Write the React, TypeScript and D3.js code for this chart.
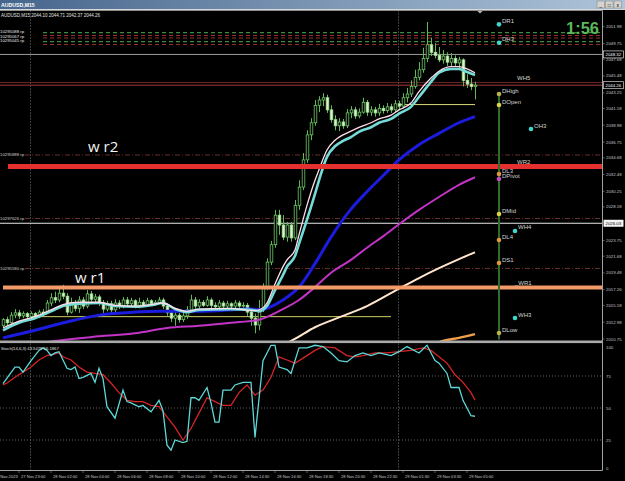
import React from "react";
import * as d3 from "d3";

// ---------- DATA ----------
// OHLC per M15 bar: [open, high, low, close]
const bars: [number, number, number, number][] = [
  [2012.5, 2013.5, 2012.2, 2013.3], [2013.3, 2013.7, 2012.5, 2012.9], [2012.9, 2014.3, 2012.6, 2013.9], [2013.9, 2014.7, 2013.5, 2014.2],
  [2014.2, 2014.6, 2013.4, 2013.8], [2013.8, 2014.4, 2013.5, 2014.1], [2014.1, 2014.3, 2013.3, 2013.7], [2013.7, 2014.4, 2013.4, 2014.1],
  [2014.1, 2014.3, 2013.5, 2013.8], [2013.8, 2014.6, 2013.5, 2014.3], [2014.3, 2014.7, 2013.8, 2014.2], [2014.2, 2015.9, 2014.1, 2015.5],
  [2015.5, 2016.8, 2015.1, 2016.2], [2016.2, 2017.0, 2015.5, 2015.9], [2015.9, 2017.5, 2015.6, 2016.8], [2016.8, 2017.9, 2016.0, 2016.4],
  [2016.4, 2016.8, 2013.9, 2014.3], [2014.3, 2016.2, 2014.1, 2015.5], [2015.5, 2015.9, 2014.4, 2014.8], [2014.8, 2016.4, 2014.2, 2015.9],
  [2015.9, 2016.3, 2014.7, 2015.1], [2015.1, 2017.2, 2014.8, 2016.7], [2016.7, 2017.1, 2015.5, 2016.0], [2016.0, 2016.7, 2015.6, 2016.3],
  [2016.3, 2016.6, 2015.1, 2015.5], [2015.5, 2015.9, 2014.2, 2014.7], [2014.7, 2015.8, 2014.4, 2015.4], [2015.4, 2015.8, 2014.2, 2014.6],
  [2014.6, 2016.0, 2014.3, 2015.5], [2015.5, 2015.9, 2014.7, 2015.1], [2015.1, 2016.3, 2014.8, 2015.9], [2015.9, 2016.3, 2015.0, 2015.4],
  [2015.4, 2016.2, 2015.1, 2015.8], [2015.8, 2016.0, 2014.8, 2015.1], [2015.1, 2016.2, 2014.8, 2015.6], [2015.6, 2015.9, 2015.0, 2015.2],
  [2015.2, 2016.2, 2015.0, 2015.8], [2015.8, 2016.0, 2015.1, 2015.4], [2015.4, 2015.9, 2015.1, 2015.6], [2015.6, 2016.3, 2015.4, 2015.9],
  [2015.9, 2016.2, 2014.7, 2015.1], [2015.1, 2015.5, 2013.8, 2014.2], [2014.2, 2014.6, 2013.0, 2013.5], [2013.5, 2014.3, 2012.5, 2013.9],
  [2013.9, 2014.2, 2012.9, 2013.3], [2013.3, 2014.2, 2013.0, 2013.8], [2013.8, 2015.1, 2013.4, 2014.6], [2014.6, 2016.6, 2014.3, 2015.9],
  [2015.9, 2016.3, 2014.7, 2015.1], [2015.1, 2016.0, 2014.8, 2015.6], [2015.6, 2015.9, 2015.0, 2015.2], [2015.2, 2016.4, 2015.0, 2015.9],
  [2015.9, 2016.2, 2014.8, 2015.2], [2015.2, 2015.6, 2014.3, 2015.0], [2015.0, 2015.9, 2014.6, 2015.5], [2015.5, 2015.8, 2014.7, 2015.1],
  [2015.1, 2015.8, 2014.8, 2015.4], [2015.4, 2015.6, 2014.7, 2015.1], [2015.1, 2015.9, 2014.8, 2015.5], [2015.5, 2015.8, 2014.6, 2015.1],
  [2015.1, 2015.6, 2014.7, 2015.2], [2015.2, 2015.5, 2013.8, 2014.3], [2014.3, 2014.8, 2012.5, 2013.5], [2013.5, 2014.1, 2011.5, 2012.6],
  [2012.6, 2015.9, 2011.9, 2014.6], [2014.6, 2018.1, 2014.3, 2017.6], [2017.6, 2021.4, 2017.2, 2020.9], [2020.9, 2023.7, 2020.5, 2023.2],
  [2023.2, 2027.8, 2022.8, 2027.1], [2027.1, 2027.8, 2024.5, 2025.8], [2025.8, 2027.1, 2023.8, 2024.2], [2024.2, 2026.2, 2023.6, 2025.8],
  [2025.8, 2026.2, 2023.6, 2024.1], [2024.1, 2029.1, 2023.8, 2028.4], [2028.4, 2031.7, 2027.8, 2030.8], [2030.8, 2035.3, 2030.4, 2034.4],
  [2034.4, 2038.3, 2034.0, 2037.7], [2037.7, 2039.9, 2037.0, 2039.3], [2039.3, 2042.3, 2038.9, 2041.6], [2041.6, 2042.8, 2040.7, 2042.3],
  [2042.3, 2043.2, 2041.5, 2042.6], [2042.6, 2043.0, 2040.6, 2041.0], [2041.0, 2041.6, 2039.3, 2039.7], [2039.7, 2040.3, 2038.3, 2038.9],
  [2038.9, 2039.9, 2038.2, 2039.4], [2039.4, 2039.8, 2038.5, 2038.9], [2038.9, 2041.1, 2038.6, 2040.6], [2040.6, 2041.5, 2039.9, 2041.0],
  [2041.0, 2041.4, 2039.8, 2040.2], [2040.2, 2041.2, 2039.9, 2040.7], [2040.7, 2042.6, 2040.5, 2042.0], [2042.0, 2042.3, 2040.2, 2040.7],
  [2040.7, 2041.5, 2040.2, 2041.0], [2041.0, 2041.4, 2040.1, 2040.6], [2040.6, 2041.8, 2040.2, 2041.2], [2041.2, 2041.6, 2040.5, 2040.9],
  [2040.9, 2041.9, 2040.6, 2041.4], [2041.4, 2041.8, 2040.6, 2041.0], [2041.0, 2042.3, 2040.7, 2041.8], [2041.8, 2042.2, 2041.0, 2041.5],
  [2041.5, 2043.2, 2041.2, 2042.6], [2042.6, 2043.9, 2042.0, 2043.1], [2043.1, 2044.9, 2042.7, 2044.1], [2044.1, 2046.3, 2043.8, 2045.3],
  [2045.3, 2047.3, 2044.9, 2046.3], [2046.3, 2049.2, 2045.9, 2047.8], [2047.8, 2052.6, 2047.3, 2049.6], [2049.6, 2050.5, 2048.1, 2048.6],
  [2048.6, 2049.8, 2047.8, 2048.2], [2048.2, 2049.3, 2047.3, 2047.6], [2047.6, 2048.9, 2047.1, 2048.1], [2048.1, 2048.6, 2046.8, 2047.3],
  [2047.3, 2048.5, 2046.7, 2047.8], [2047.8, 2048.2, 2046.7, 2047.2], [2047.2, 2048.0, 2046.5, 2047.6], [2047.6, 2047.8, 2044.1, 2044.9],
  [2044.9, 2045.7, 2043.9, 2044.4], [2044.4, 2045.2, 2043.6, 2044.1], [2044.10, 2044.71, 2042.37, 2044.26],
];

// moving averages: [bar index, price]
const maPink: [number, number][] = [[0, 2012.2], [4, 2013.1], [8, 2013.7], [12, 2014.6], [15, 2015.3], [19, 2015.6], [24, 2015.6], [28, 2015.2], [33, 2015.1], [37, 2015.3], [40, 2015.5], [43, 2014.8], [46, 2014.4], [49, 2014.7], [57, 2014.8], [62, 2014.5], [64, 2014.6], [66, 2015.5], [68, 2018.0], [70, 2020.3], [71, 2021.2], [73, 2022.5], [74, 2024.5], [76, 2028.4], [78, 2031.7], [79, 2033.1], [81, 2035.7], [83, 2037.0], [85, 2037.7], [87, 2038.2], [89, 2038.7], [92, 2039.3], [94, 2039.8], [97, 2040.3], [99, 2041.0], [102, 2041.9], [104, 2043.4], [107, 2045.2], [109, 2046.1], [112, 2046.7], [114, 2046.7], [116, 2046.4], [118, 2045.9]];
const maCyan: [number, number][] = [[0, 2011.9], [4, 2012.9], [8, 2013.5], [12, 2014.4], [15, 2015.1], [19, 2015.4], [24, 2015.5], [28, 2015.1], [33, 2015.0], [37, 2015.2], [40, 2015.5], [43, 2014.7], [46, 2014.3], [49, 2014.6], [57, 2014.7], [62, 2014.6], [64, 2014.4], [66, 2015.1], [68, 2017.2], [70, 2019.2], [71, 2020.3], [73, 2021.7], [74, 2023.3], [76, 2026.5], [78, 2029.9], [79, 2031.7], [81, 2034.8], [83, 2036.2], [85, 2036.9], [87, 2037.4], [89, 2038.1], [92, 2038.7], [94, 2039.3], [97, 2039.8], [99, 2040.5], [102, 2041.4], [104, 2042.7], [107, 2044.7], [109, 2045.9], [112, 2046.4], [114, 2046.4], [116, 2046.0], [118, 2045.6]];
const maBlue: [number, number][] = [[0, 2010.9], [8, 2011.9], [16, 2013.0], [24, 2013.9], [33, 2014.3], [39, 2014.4], [49, 2014.4], [62, 2014.7], [64, 2014.6], [70, 2015.9], [74, 2017.6], [78, 2020.7], [82, 2024.2], [87, 2027.9], [91, 2030.2], [95, 2032.3], [99, 2034.4], [104, 2036.4], [109, 2037.9], [114, 2039.3], [118, 2040.1]];
const maMagenta: [number, number][] = [[5, 2009.8], [13, 2010.5], [24, 2011.1], [33, 2011.5], [41, 2012.2], [49, 2012.5], [57, 2012.9], [64, 2013.3], [70, 2014.7], [74, 2015.9], [78, 2017.6], [82, 2019.5], [87, 2021.2], [91, 2022.8], [95, 2024.3], [99, 2025.9], [104, 2027.8], [109, 2029.5], [114, 2031.1], [118, 2032.1]];
const maCream: [number, number][] = [[66, 2009.3], [72, 2010.5], [78, 2012.3], [85, 2013.8], [91, 2015.1], [99, 2017.4], [104, 2018.8], [109, 2020.1], [114, 2021.3], [118, 2022.2]];
const maOrange: [number, number][] = [[107, 2009.9], [110, 2010.5], [114, 2010.9], [118, 2011.4]];

// stochastic (14,6,3): [bar index, value]
const stochK: [number, number][] = [[0, 69], [3, 82], [4, 82], [5, 78], [7, 87], [9, 95], [10, 97], [11, 95], [12, 91], [13, 93], [14, 94], [16, 81], [17, 80], [18, 82], [19, 73], [20, 74], [22, 77], [23, 70], [24, 81], [25, 73], [26, 51], [28, 42], [30, 64], [31, 55], [32, 54], [34, 51], [35, 52], [37, 47], [39, 56], [40, 48], [41, 21], [42, 17], [43, 25], [45, 23], [46, 24], [47, 58], [48, 58], [49, 56], [51, 66], [52, 54], [53, 39], [54, 39], [55, 64], [57, 64], [58, 68], [60, 70], [62, 70], [63, 27], [65, 87], [67, 99], [68, 99], [69, 82], [71, 80], [72, 77], [74, 97], [76, 97], [78, 99], [80, 98], [82, 93], [84, 87], [86, 86], [88, 91], [90, 93], [92, 91], [94, 93], [97, 91], [99, 94], [101, 98], [104, 93], [106, 99], [108, 87], [109, 85], [111, 77], [112, 66], [114, 66], [115, 56], [117, 44], [118, 43.5479]];
const stochD: [number, number][] = [[0, 68], [1, 69.5], [3, 74], [5, 78], [7, 82], [9, 87.5], [11, 91], [14, 93], [15, 90], [17, 87.5], [19, 82], [21, 78], [23, 77], [25, 76], [27, 69.5], [29, 62], [31, 56], [33, 55], [35, 55], [37, 52], [39, 51], [41, 43], [43, 35], [45, 25], [47, 34], [49, 46], [51, 58], [53, 55], [55, 52], [57, 52], [59, 62], [61, 68], [63, 60], [65, 64], [67, 74], [69, 90], [71, 87.5], [73, 85], [75, 89], [78, 95], [80, 98], [83, 97], [86, 91], [88, 90], [90, 91], [93, 93], [96, 93], [99, 94], [102, 95], [105, 97], [107, 95], [109, 90], [111, 85], [113, 76], [115, 70], [117, 62], [118, 56.1867]];

// horizontal levels (prices)
const greenDashLevels = [2051.21, 2050.02];
const redDashLevels = [2050.81, 2050.48, 2049.63];
const dashDotLevels = [2035.04, 2026.66, 2020.06];
const dashDotTags = ["10295888 rp", "10297626 rp", "10295580 rp"];
const topTags = ["10295088 rp", "10295067 rp", "10295045 rp"];
const topTagPrices = [2051.3, 2050.75, 2050.1];
const weeklyR2 = 2033.52;
const weeklyR1 = 2017.55;
const whiteLevel = 2026.03;
const grayLevel = 2048.32;
const wh5Level = 2044.6;
const bidPrice = 2044.26;
const prevDayOpen = 2013.7;
const dayOpen = 2041.7;
const prevDayBars = [7, 97];
const dayBars = [99, 118];
const daySeparatorBars = [7, 99];

// pivot markers
const pivotNames = ["DR1", "DH3", "DHigh", "DOpen", "DL3", "DPivot", "DMid", "DL4", "DS1", "DLow", "OH3", "WH4", "WH3"];
const pivotPrices = [2052.29, 2049.86, 2043.09, 2041.64, 2032.53, 2031.87, 2027.25, 2023.82, 2020.78, 2011.54, 2038.47, 2025.01, 2013.52];
const pivotBars = [124, 124, 124, 124, 124, 124, 124, 124, 124, 124, 132, 128, 128];
const pivotKinds = ["c", "c", "o", "y", "r", "m", "y", "r", "r", "o", "c", "c", "c"];
const lineTagNames = ["WH5", "WR2", "_WR1"];
const lineTagPrices = [wh5Level, weeklyR2, weeklyR1];
const lineTagBars = [128, 128, 127.5];

const chartTexts = ["w r2", "w r1"];
const chartTextPrices = [2035.4, 2018.1];
const chartTextBars = [21.25, 18];

const priceTicks = ["2051.98", "2049.75", "2047.68", "2045.48", "2043.25", "2041.18", "2038.98", "2036.75", "2034.68", "2032.48", "2030.25", "2028.18", "2023.75", "2021.68", "2019.48", "2017.26", "2015.18", "2012.98", "2010.75"];
const stochTicks = [100, 75, 50, 25, 0];
const stochLevels = [75, 50, 25];
const timeTickLabels = ["Nov 2023", "27 Nov 23:00", "28 Nov 02:00", "28 Nov 04:00", "28 Nov 06:00", "28 Nov 08:00", "28 Nov 10:00", "28 Nov 12:00", "28 Nov 14:30", "28 Nov 16:30", "28 Nov 18:30", "28 Nov 20:30", "28 Nov 22:30", "29 Nov 01:30", "29 Nov 03:30", "29 Nov 05:00"];
const timeTickBars = [-1.2, 4, 12, 20, 28, 36, 44, 52, 60, 68, 76, 84, 92, 100, 108, 116];

const symbol = "AUDUSD,M15";
const ohlcHeader = "2044.10 2044.71 2042.37 2044.26";
const stochHeader = "Stoch(14,6,3) 43.5479 56.1867";
const timer = "1:56";

// ---------- CHART ----------
const PLOT_R = 602.5;
const MAIN_TOP = 10.5;
const MAIN_BOT = 341;
const SUB_TOP = 343.5;
const SUB_BOT = 470.5;

const kindColor: Record<string, string> = { c: "#3fd6cc", o: "#b9b24a", y: "#dcd24a", r: "#e0963e", m: "#c848c8" };

export default function App() {
  const x = d3.scaleLinear().domain([0, 118]).range([3, 475]);
  const y = d3.scaleLinear().domain([2010.75, 2051.98]).range([339, 26.7]);
  const ys = d3.scaleLinear().domain([0, 100]).range([472, 344]);

  const maLine = d3.line<[number, number]>().x((d) => x(d[0])).y((d) => y(d[1])).curve(d3.curveMonotoneX);
  const stLine = d3.line<[number, number]>().x((d) => x(d[0])).y((d) => ys(d[1]));

  const font = "'Liberation Sans', Arial, sans-serif";
  const axisCol = "#c8c8c8";

  return (
    <svg width={625} height={481} viewBox="0 0 625 481" style={{ position: "fixed", left: 0, top: 0, display: "block", background: "#000" }} fontFamily={font}>
      <defs>
        <linearGradient id="tb" x1="0" x2="1" y1="0" y2="0">
          <stop offset="0" stopColor="#46658c" />
          <stop offset="1" stopColor="#aec4da" />
        </linearGradient>
        <clipPath id="mainClip"><rect x={0} y={MAIN_TOP} width={PLOT_R} height={MAIN_BOT - MAIN_TOP} /></clipPath>
        <clipPath id="subClip"><rect x={0} y={SUB_TOP} width={PLOT_R} height={SUB_BOT - SUB_TOP} /></clipPath>
      </defs>
      <rect x={0} y={0} width={625} height={481} fill="#000" />

      {/* title bar */}
      <rect x={0} y={0} width={625} height={9} fill="url(#tb)" />
      <line x1={0} x2={625} y1={9.5} y2={9.5} stroke="#d8d8d8" strokeWidth={1} />
      <text x={1} y={7} fontSize={5.2} fontWeight="bold" fill="#fff">{symbol}</text>
      {[0, 1, 2].map((i) => (
        <g key={i}>
          <rect x={597 + i * 8.5} y={1} width={7.5} height={7} fill="#d6d3cc" stroke="#808080" strokeWidth={0.5} />
          <text x={600.75 + i * 8.5} y={6.8} fontSize={5} textAnchor="middle" fill="#000">{["_", "□", "x"][i]}</text>
        </g>
      ))}

      {/* ===== main chart ===== */}
      <g clipPath="url(#mainClip)">
        {daySeparatorBars.map((b) => (
          <line key={b} x1={x(b) - 0.5} x2={x(b) - 0.5} y1={MAIN_TOP} y2={MAIN_BOT} stroke="#9a9a9a" strokeWidth={0.8} strokeDasharray="1,2" />
        ))}
        {greenDashLevels.map((p) => (
          <line key={"g" + p} x1={43} x2={PLOT_R} y1={y(p)} y2={y(p)} stroke="#3d8a3d" strokeWidth={1.2} strokeDasharray="4,3" />
        ))}
        {redDashLevels.map((p) => (
          <line key={"r" + p} x1={43} x2={PLOT_R} y1={y(p)} y2={y(p)} stroke="#9a2e2e" strokeWidth={1.1} strokeDasharray="4,3" />
        ))}
        {topTags.map((t, i) => (
          <text key={t} x={0} y={y(topTagPrices[i]) + 1.5} fontSize={4.3} fill="#e8e8e8">{t}</text>
        ))}
        <line x1={0} x2={PLOT_R} y1={y(grayLevel)} y2={y(grayLevel)} stroke="#9c9c9c" strokeWidth={1} />
        <line x1={0} x2={PLOT_R} y1={y(wh5Level)} y2={y(wh5Level)} stroke="#7a2a2a" strokeWidth={0.9} />
        <line x1={0} x2={PLOT_R} y1={y(bidPrice)} y2={y(bidPrice)} stroke="#b83a3a" strokeWidth={0.9} />
        {dashDotLevels.map((p, i) => (
          <g key={p}>
            <line x1={25} x2={PLOT_R} y1={y(p)} y2={y(p)} stroke="#6b2f2f" strokeWidth={1} strokeDasharray="5,2,1,2" />
            <text x={0} y={y(p) + 1.3} fontSize={4.3} fill="#d0d0d0">{dashDotTags[i]}</text>
          </g>
        ))}
        <line x1={0} x2={PLOT_R} y1={y(whiteLevel)} y2={y(whiteLevel)} stroke="#e8e8e8" strokeWidth={1} />

        <line x1={x(prevDayBars[0])} x2={x(prevDayBars[1])} y1={y(prevDayOpen)} y2={y(prevDayOpen)} stroke="#cfcf62" strokeWidth={1} />
        <line x1={x(dayBars[0])} x2={x(dayBars[1])} y1={y(dayOpen)} y2={y(dayOpen)} stroke="#d8d87a" strokeWidth={1} />

        {bars.map(([o, h, l, c], i) => {
          const cx = x(i);
          const bull = c >= o;
          const top = y(Math.max(o, c));
          const bot = y(Math.min(o, c));
          return (
            <g key={i}>
              <line x1={cx + 0.5} x2={cx + 0.5} y1={y(h)} y2={y(l)} stroke="#5fb85a" strokeWidth={1} />
              <rect x={cx - 0.8} y={top} width={2.6} height={Math.max(0.8, bot - top)} fill={bull ? "#000" : "#d4f4c4"} stroke={bull ? "#6cc864" : "#a6e29a"} strokeWidth={0.8} />
            </g>
          );
        })}

        <path d={maLine(maCream) || ""} fill="none" stroke="#ffe6cc" strokeWidth={2} />
        <path d={maLine(maOrange) || ""} fill="none" stroke="#f0a048" strokeWidth={2.4} />
        <path d={maLine(maMagenta) || ""} fill="none" stroke="#c234c6" strokeWidth={2} />
        <path d={maLine(maBlue) || ""} fill="none" stroke="#1c1ce0" strokeWidth={3} />
        <path d={maLine(maCyan) || ""} fill="none" stroke="#74dcd8" strokeWidth={2.6} />
        <path d={maLine(maPink) || ""} fill="none" stroke="#ffdce8" strokeWidth={1.3} />

        <line x1={8} x2={PLOT_R} y1={y(weeklyR2)} y2={y(weeklyR2)} stroke="#e4302e" strokeWidth={5} />
        <line x1={3} x2={PLOT_R} y1={y(weeklyR1)} y2={y(weeklyR1)} stroke="#f29a68" strokeWidth={4} />

        <line x1={x(124)} x2={x(124)} y1={y(pivotPrices[2])} y2={y(2010.7)} stroke="#2e6e2a" strokeWidth={2} />
        {pivotNames.map((n, i) => (
          <g key={n}>
            <circle cx={x(pivotBars[i])} cy={y(pivotPrices[i])} r={2.3} fill={kindColor[pivotKinds[i]]} />
            <text x={x(pivotBars[i]) + 3} y={y(pivotPrices[i]) - 1.5} fontSize={6} fill="#d4d4d4">{n}</text>
          </g>
        ))}
        {lineTagNames.map((n, i) => (
          <text key={n} x={x(lineTagBars[i]) + 2} y={y(lineTagPrices[i]) - 2.5} fontSize={6} fill="#d4d4d4">{n}</text>
        ))}
        {chartTexts.map((t, i) => (
          <text key={t} x={x(chartTextBars[i])} y={y(chartTextPrices[i])} fontSize={15} fontFamily="'Open Sans', sans-serif" fill="#f4f4f4">{t}</text>
        ))}
      </g>

      <text x={1} y={16.5} fontSize={4.5} fill="#e0e0e0">{symbol + " " + ohlcHeader}</text>
      <text x={599} y={33.5} fontSize={16.5} fontWeight="bold" textAnchor="end" fill="#5cb85c">{timer}</text>
      <polygon points={`${x(118) + 2},${MAIN_TOP} ${x(118) + 8},${MAIN_TOP} ${x(118) + 5},${MAIN_TOP + 3}`} fill="#b8b8b8" />

      <line x1={0} x2={PLOT_R} y1={MAIN_TOP} y2={MAIN_TOP} stroke="#8c8c8c" strokeWidth={1} />
      <rect x={0} y={MAIN_BOT - 0.5} width={PLOT_R} height={2.6} fill="#a9a9a9" />

      {/* ===== stochastic ===== */}
      <g clipPath="url(#subClip)">
        {daySeparatorBars.map((b) => (
          <line key={b} x1={x(b) - 0.5} x2={x(b) - 0.5} y1={SUB_TOP} y2={SUB_BOT} stroke="#9a9a9a" strokeWidth={0.8} strokeDasharray="1,2" />
        ))}
        {stochLevels.map((v) => (
          <line key={v} x1={0} x2={PLOT_R} y1={ys(v)} y2={ys(v)} stroke="#8a8a8a" strokeWidth={0.7} strokeDasharray="1,2" />
        ))}
        <path d={stLine(stochD) || ""} fill="none" stroke="#d42424" strokeWidth={1.3} />
        <path d={stLine(stochK) || ""} fill="none" stroke="#5ed8d8" strokeWidth={1.3} />
      </g>
      <text x={1} y={350} fontSize={4.2} fill="#e0e0e0">{stochHeader}</text>
      <line x1={0} x2={PLOT_R} y1={SUB_BOT} y2={SUB_BOT} stroke="#a0a0a0" strokeWidth={1} />

      {/* right axis */}
      <line x1={PLOT_R} x2={PLOT_R} y1={MAIN_TOP} y2={SUB_BOT} stroke="#a0a0a0" strokeWidth={1} />
      {priceTicks.map((t) => (
        <g key={t}>
          <line x1={PLOT_R} x2={PLOT_R + 2} y1={y(+t)} y2={y(+t)} stroke="#a0a0a0" strokeWidth={0.6} />
          <text x={606} y={y(+t) + 1.5} fontSize={4.3} fill={axisCol}>{t}</text>
        </g>
      ))}
      {[grayLevel, bidPrice].map((p) => (
        <g key={p}>
          <rect x={603.5} y={y(p) - 3.5} width={20} height={7} fill="#000" stroke="#d8d8d8" strokeWidth={0.7} />
          <text x={605.5} y={y(p) + 1.5} fontSize={4.3} fill="#ffffff">{p.toFixed(2)}</text>
        </g>
      ))}
      <rect x={603.5} y={y(whiteLevel) - 3.5} width={20} height={7} fill="#f4f4f4" />
      <text x={605.5} y={y(whiteLevel) + 1.5} fontSize={4.3} fill="#000">{whiteLevel.toFixed(2)}</text>
      {stochTicks.map((v) => (
        <text key={v} x={606} y={Math.min(Math.max(ys(v) + 1.5, 348.5), 469.5)} fontSize={4.3} fill={axisCol}>{v}</text>
      ))}

      {/* time axis */}
      {timeTickLabels.map((t, i) => (
        <g key={t}>
          <line x1={x(timeTickBars[i])} x2={x(timeTickBars[i])} y1={SUB_BOT} y2={SUB_BOT + 2.5} stroke="#a0a0a0" strokeWidth={0.6} />
          <text x={x(timeTickBars[i]) + 2} y={478} fontSize={4.1} fill={axisCol}>{t}</text>
        </g>
      ))}
    </svg>
  );
}
